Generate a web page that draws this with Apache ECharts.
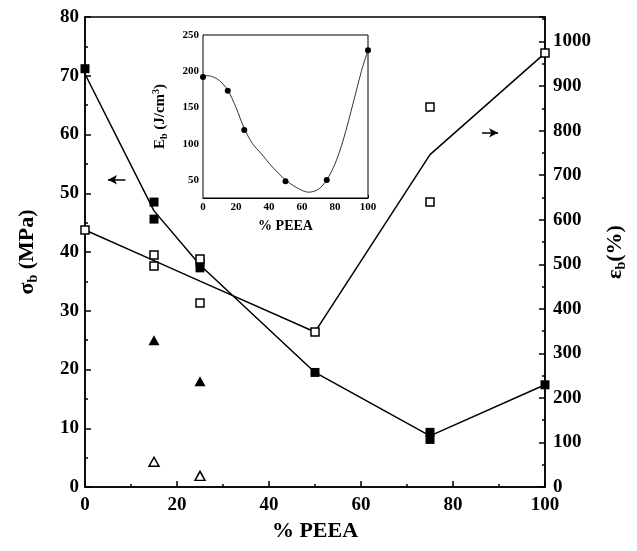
<!DOCTYPE html>
<html>
<head>
<meta charset="utf-8">
<script src="https://cdn.jsdelivr.net/npm/echarts@6/dist/echarts.min.js"></script>
<style>
  html, body { margin: 0; padding: 0; background: #fff; }
  #chart { width: 637px; height: 551px; }
</style>
</head>
<body>
<div id="chart"></div>
<script>
// % PEEA compositions
var pct = [0, 15, 25, 50, 75, 100];
// fitted lines (average of the measured points)
var sigmaLine = [70.3, 47.0, 37.8, 19.5, 8.7, 17.4];     // MPa, left axis
var strainLine = [577, 508, 462, 348, 746, 974];         // %, right axis

// measured points
var sigmaX = [0, 15, 15, 25, 25, 50, 75, 75, 100];
var sigmaY = [71.2, 48.5, 45.6, 38.3, 37.3, 19.5, 9.3, 8.1, 17.4];
var strainX = [0, 15, 15, 25, 25, 50, 75, 75, 100];
var strainY = [577, 521, 496, 512, 413, 348, 853, 640, 974];
var triSolidX = [15, 25];
var triSolidY = [25.0, 18.0];
var triOpenX = [15, 25];
var triOpenY = [4.3, 1.9];

// inset: breaking energy
var ebX = [0, 15, 25, 50, 75, 100];
var ebY = [192, 173, 119, 48, 50, 229];
// fitted curve
var ebCurveX = [0, 5, 10, 15, 20, 25, 30, 35, 42, 50, 57, 64, 70, 75, 80, 85, 91, 96, 100];
var ebCurveY = [194, 193, 187, 174, 150, 121, 100, 87, 68, 50, 39, 33, 37, 50, 72, 105, 156, 200, 229];

function pairs(xs, ys) { return xs.map(function (x, i) { return [x, ys[i]]; }); }

var serif = 'Liberation Serif';
var chart = echarts.init(document.getElementById('chart'));

var mainLabel = { color: '#000', fontFamily: serif, fontWeight: 'bold', fontSize: 19 };
var insetLabel = { color: '#000', fontFamily: serif, fontWeight: 'bold', fontSize: 11, margin: 4 };
var axisLine = { show: true, onZero: false, lineStyle: { color: '#000', width: 1.5 } };
var plain = function (v) { return String(v); };

var option = {
  animation: false,
  backgroundColor: '#fff',
  grid: [
    { left: 85, right: 92, top: 17, bottom: 64, show: true, borderColor: '#000', borderWidth: 1.5, backgroundColor: 'transparent' },
    { left: 203, right: 269, top: 35, bottom: 353, show: true, borderColor: '#000', borderWidth: 1, backgroundColor: '#fff', z: 5 }
  ],
  xAxis: [
    {
      gridIndex: 0, type: 'value', min: 0, max: 100, interval: 20,
      name: '% PEEA', nameLocation: 'middle', nameGap: 28,
      nameTextStyle: { color: '#000', fontFamily: serif, fontWeight: 'bold', fontSize: 22 },
      axisLine: axisLine,
      axisTick: { inside: true, length: 6, lineStyle: { color: '#000', width: 1.5 } },
      minorTick: { show: true, splitNumber: 2, length: 3, lineStyle: { color: '#000', width: 1.5 } },
      axisLabel: Object.assign({ margin: 9, formatter: plain }, mainLabel),
      splitLine: { show: false }
    },
    {
      gridIndex: 1, type: 'value', min: 0, max: 100, interval: 20,
      name: '% PEEA', nameLocation: 'middle', nameGap: 21,
      nameTextStyle: { color: '#000', fontFamily: serif, fontWeight: 'bold', fontSize: 14 },
      axisLine: { show: true, lineStyle: { color: '#000', width: 1 } },
      axisTick: { inside: true, length: 3, lineStyle: { color: '#000' } },
      minorTick: { show: true, splitNumber: 2, length: 2, lineStyle: { color: '#000' } },
      axisLabel: insetLabel,
      splitLine: { show: false }
    }
  ],
  yAxis: [
    {
      gridIndex: 0, type: 'value', min: 0, max: 80, interval: 10, position: 'left',
      name: '{m|σ}{s|b}{m| (MPa)}', nameLocation: 'middle', nameGap: 45, nameRotate: 90,
      nameTextStyle: {
        rich: {
          m: { color: '#000', fontFamily: serif, fontWeight: 'bold', fontSize: 22, lineHeight: 26 },
          s: { color: '#000', fontFamily: serif, fontWeight: 'bold', fontSize: 14, lineHeight: 26, padding: [12, 0, 0, 0] }
        }
      },
      axisLine: axisLine,
      axisTick: { inside: true, length: 6, lineStyle: { color: '#000', width: 1.5 } },
      minorTick: { show: true, splitNumber: 2, length: 3, lineStyle: { color: '#000', width: 1.5 } },
      axisLabel: Object.assign({ margin: 6, formatter: plain }, mainLabel),
      splitLine: { show: false }
    },
    {
      gridIndex: 0, type: 'value', min: 0, max: 1055, interval: 100, position: 'right',
      name: '{m|ε}{s|b}{m|(%)}', nameLocation: 'middle', nameGap: 52, nameRotate: 90,
      nameTextStyle: {
        rich: {
          m: { color: '#000', fontFamily: serif, fontWeight: 'bold', fontSize: 22, lineHeight: 26 },
          s: { color: '#000', fontFamily: serif, fontWeight: 'bold', fontSize: 14, lineHeight: 26, padding: [12, 0, 0, 0] }
        }
      },
      axisLine: axisLine,
      axisTick: { inside: true, length: 6, lineStyle: { color: '#000', width: 1.5 } },
      minorTick: { show: true, splitNumber: 2, length: 3, lineStyle: { color: '#000', width: 1.5 } },
      axisLabel: Object.assign({ margin: 8, showMaxLabel: false, formatter: plain }, mainLabel),
      splitLine: { show: false }
    },
    {
      gridIndex: 1, type: 'value', min: 25, max: 250, interval: 25,
      name: '{m|E}{s|b}{m| (J/cm}{p|3}{m|)}', nameLocation: 'middle', nameGap: 34, nameRotate: 90,
      nameTextStyle: {
        rich: {
          m: { color: '#000', fontFamily: serif, fontWeight: 'bold', fontSize: 15, lineHeight: 18 },
          s: { color: '#000', fontFamily: serif, fontWeight: 'bold', fontSize: 10, lineHeight: 18, padding: [8, 0, 0, 0] },
          p: { color: '#000', fontFamily: serif, fontWeight: 'bold', fontSize: 10, lineHeight: 18, padding: [0, 0, 8, 0] }
        }
      },
      axisLine: { show: true, lineStyle: { color: '#000', width: 1 } },
      axisTick: { inside: true, length: 3, lineStyle: { color: '#000' } },
      axisLabel: Object.assign({}, insetLabel, {
        formatter: function (v) { return v % 50 === 0 ? String(v) : ''; }
      }),
      splitLine: { show: false }
    }
  ],
  series: [
    {
      type: 'line', xAxisIndex: 0, yAxisIndex: 0, data: pairs(pct, sigmaLine),
      symbol: 'none', lineStyle: { color: '#000', width: 1.5 }, z: 2,
      markLine: {
        silent: true, symbol: ['none', 'arrow'], symbolSize: [7, 9], label: { show: false },
        lineStyle: { color: '#000', width: 1.5, type: 'solid' },
        data: [[{ coord: [8.8, 52.3] }, { coord: [5.0, 52.3] }]]
      }
    },
    {
      type: 'line', xAxisIndex: 0, yAxisIndex: 1, data: pairs(pct, strainLine),
      symbol: 'none', lineStyle: { color: '#000', width: 1.5 }, z: 2,
      markLine: {
        silent: true, symbol: ['none', 'arrow'], symbolSize: [7, 9], label: { show: false },
        lineStyle: { color: '#000', width: 1.5, type: 'solid' },
        data: [[{ coord: [86.3, 795] }, { coord: [89.8, 795] }]]
      }
    },
    {
      type: 'scatter', xAxisIndex: 0, yAxisIndex: 0, data: pairs(sigmaX, sigmaY),
      symbol: 'rect', symbolSize: 9, itemStyle: { color: '#000', opacity: 1 }, z: 4
    },
    {
      type: 'scatter', xAxisIndex: 0, yAxisIndex: 1, data: pairs(strainX, strainY),
      symbol: 'rect', symbolSize: 8, itemStyle: { color: '#fff', borderColor: '#000', borderWidth: 1.5, opacity: 1 }, z: 4
    },
    {
      type: 'scatter', xAxisIndex: 0, yAxisIndex: 0, data: pairs(triSolidX, triSolidY),
      symbol: 'triangle', symbolSize: [11, 10], itemStyle: { color: '#000', opacity: 1 }, z: 4
    },
    {
      type: 'scatter', xAxisIndex: 0, yAxisIndex: 0, data: pairs(triOpenX, triOpenY),
      symbol: 'triangle', symbolSize: [10, 9], itemStyle: { color: '#fff', borderColor: '#000', borderWidth: 1.5, opacity: 1 }, z: 4
    },
    {
      type: 'line', xAxisIndex: 1, yAxisIndex: 2, data: pairs(ebCurveX, ebCurveY),
      smooth: 0.3, symbol: 'none', lineStyle: { color: '#000', width: 0.8 }, z: 6
    },
    {
      type: 'scatter', xAxisIndex: 1, yAxisIndex: 2, data: pairs(ebX, ebY),
      symbol: 'circle', symbolSize: 6, itemStyle: { color: '#000', opacity: 1 }, z: 7
    }
  ]
};

chart.setOption(option);
</script>
</body>
</html>
